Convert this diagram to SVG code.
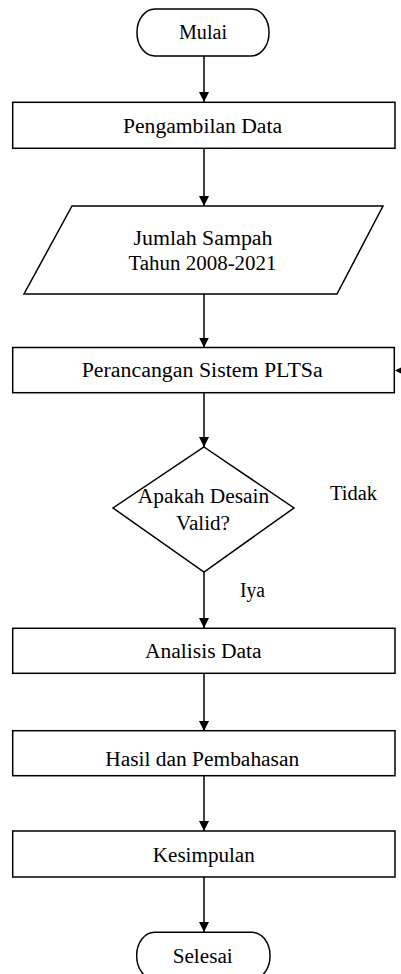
<svg xmlns="http://www.w3.org/2000/svg" width="401" height="974" viewBox="0 0 401 974">
<defs>
<style>
.s{fill:#fff;stroke:#000;stroke-width:1.5}
.t{font-family:"Liberation Serif","Times New Roman",serif;font-size:20px;fill:#000;text-anchor:middle}
.c{stroke:#000;stroke-width:1.5;fill:none}
</style>
<marker id="ah" viewBox="0 0 10 10" refX="10" refY="5" markerWidth="10" markerHeight="10" markerUnits="userSpaceOnUse" orient="auto">
<path d="M0,0 L10,5 L0,10 Z" fill="#000"/>
</marker>
</defs>
<rect width="401" height="974" fill="#fff"/>
<g id="connectors">
<path class="c" d="M204,56 V102" marker-end="url(#ah)"/>
<path class="c" d="M204,148 V206" marker-end="url(#ah)"/>
<path class="c" d="M204,294 V347.5" marker-end="url(#ah)"/>
<path class="c" d="M204,393 V447" marker-end="url(#ah)"/>
<path class="c" d="M204,572 V628" marker-end="url(#ah)"/>
<path class="c" d="M204,673 V731" marker-end="url(#ah)"/>
<path class="c" d="M204,776 V831" marker-end="url(#ah)"/>
<path class="c" d="M204,877 V932" marker-end="url(#ah)"/>
<polygon points="395,370.5 401,367.5 401,373.5" fill="#000"/>
<text class="t" x="353.5" y="500" textLength="47" lengthAdjust="spacingAndGlyphs">Tidak</text>
<text class="t" x="252.5" y="597" textLength="25" lengthAdjust="spacingAndGlyphs">Iya</text>
</g>
<g id="mulai">
<rect class="s" x="137" y="9" width="132" height="47" rx="18" ry="23"/>
<text class="t" x="203" y="39" textLength="48" lengthAdjust="spacingAndGlyphs">Mulai</text>
</g>
<g id="pengambilan">
<rect class="s" x="12.7" y="102.3" width="382.3" height="46"/>
<text class="t" x="202.5" y="132.7" textLength="159" lengthAdjust="spacingAndGlyphs">Pengambilan Data</text>
</g>
<g id="jumlah">
<polygon class="s" points="72,206 383,206 337,294 24,294"/>
<text class="t" x="203" y="245" textLength="139" lengthAdjust="spacingAndGlyphs">Jumlah Sampah</text>
<text class="t" x="202.5" y="270" textLength="148" lengthAdjust="spacingAndGlyphs">Tahun 2008-2021</text>
</g>
<g id="perancangan">
<rect class="s" x="12.7" y="347.5" width="381.6" height="45.2"/>
<text class="t" x="202.2" y="376.7" textLength="241" lengthAdjust="spacingAndGlyphs">Perancangan Sistem PLTSa</text>
</g>
<g id="keputusan">
<polygon class="s" points="204,447 294,508 204,572 113,508"/>
<text class="t" x="203.5" y="503" textLength="131.6" lengthAdjust="spacingAndGlyphs">Apakah Desain</text>
<text class="t" x="203" y="530" textLength="54" lengthAdjust="spacingAndGlyphs">Valid?</text>
</g>
<g id="analisis">
<rect class="s" x="12.7" y="628.3" width="382.3" height="45"/>
<text class="t" x="203.3" y="658" textLength="116.7" lengthAdjust="spacingAndGlyphs">Analisis Data</text>
</g>
<g id="hasil">
<rect class="s" x="12.7" y="730.7" width="382.3" height="45"/>
<text class="t" x="202.2" y="766" textLength="194" lengthAdjust="spacingAndGlyphs">Hasil dan Pembahasan</text>
</g>
<g id="kesimpulan">
<rect class="s" x="12.7" y="831" width="382.3" height="46"/>
<text class="t" x="203.8" y="861.7" textLength="102" lengthAdjust="spacingAndGlyphs">Kesimpulan</text>
</g>
<g id="selesai">
<rect class="s" x="136.7" y="932.3" width="133.3" height="47" rx="18" ry="23"/>
<text class="t" x="202.7" y="962.7" textLength="60" lengthAdjust="spacingAndGlyphs">Selesai</text>
</g>
</svg>
